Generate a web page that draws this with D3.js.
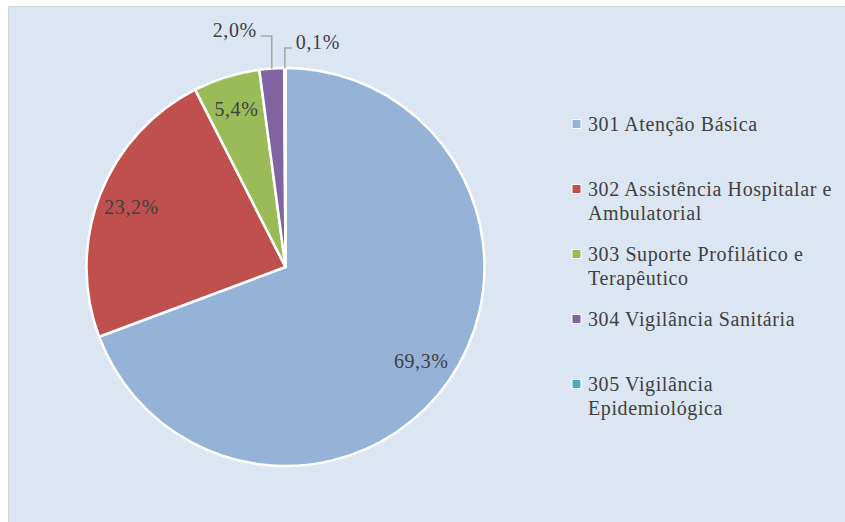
<!DOCTYPE html>
<html>
<head>
<meta charset="utf-8">
<script src="https://cdn.jsdelivr.net/npm/d3@7"></script>
<style>
  html, body { margin: 0; padding: 0; background: #ffffff; }
  svg { display: block; }
</style>
</head>
<body>
<script>
window.document.addEventListener('DOMContentLoaded', init, false);

var categories = [
    '301 Atenção Básica',
    '302 Assistência Hospitalar e Ambulatorial',
    '303 Suporte Profilático e Terapêutico',
    '304 Vigilância Sanitária',
    '305 Vigilância Epidemiológica'
];
var values = [69.3, 23.2, 5.4, 2.0, 0.1];
var colors = ['#95b3d7', '#c0504d', '#9bbb59', '#8064a2', '#4bacc6'];
var title = 'Despesas com saúde por subfunção';

var width = 845, height = 522;
var cx = 285.5, cy = 267, radius = 199;
var fontFamily = 'Liberation Serif, Times New Roman, Tinos, serif';

var ptBR = d3.formatLocale({ decimal: ',', thousands: '.', grouping: [3], currency: ['R$', ''] });
var fmt = ptBR.format('.1f');

function init() {
    var svg = d3.select('body')
        .append('svg')
        .attr('width', width)
        .attr('height', height);

    // chart area
    svg.append('rect')
        .attr('x', 8.5)
        .attr('y', 6.5)
        .attr('width', width)
        .attr('height', height)
        .attr('fill', '#dce6f2')
        .attr('stroke', '#d4d4d4');

    // title, mostly cut off at the top
    svg.append('text')
        .attr('x', 262)
        .attr('y', -5)
        .attr('font-family', fontFamily)
        .attr('font-weight', 'bold')
        .attr('font-size', '22px')
        .attr('letter-spacing', '2.4px')
        .attr('fill', '#000')
        .text(title);

    var color = d3.scaleOrdinal().domain(categories).range(colors);

    var pie = d3.pie().sort(null).value((d) => d.value);
    var data = categories.map((c, i) => ({ name: c, value: values[i] }));
    var arcs = pie(data);

    var arc = d3.arc().innerRadius(0).outerRadius(radius);
    var labelArc = d3.arc().innerRadius(radius * 0.83).outerRadius(radius * 0.83);

    var g = svg.append('g').attr('transform', `translate(${cx}, ${cy})`);

    g.selectAll('.slice')
        .data(arcs)
        .enter()
            .append('path')
            .attr('class', 'slice')
            .attr('d', arc)
            .attr('fill', (d) => color(d.data.name))
            .attr('stroke', '#ffffff')
            .attr('stroke-width', 2.5)
            .attr('stroke-linejoin', 'round');

    // labels inside the big slices
    var inside = arcs.filter((d) => d.data.value >= 5);
    g.selectAll('.inlabel')
        .data(inside)
        .enter()
            .append('text')
            .attr('class', 'inlabel')
            .attr('transform', (d) => `translate(${labelArc.centroid(d)})`)
            .attr('text-anchor', 'middle')
            .attr('dominant-baseline', 'central')
            .attr('font-family', fontFamily)
            .attr('font-size', '20px')
            .attr('letter-spacing', '0.6px')
            .attr('fill', '#404040')
            .text((d) => fmt(d.data.value) + '%');

    // small slices: labels outside with elbow leader lines
    var outside = arcs.filter((d) => d.data.value < 5);
    var elbowRise = [32, 20];
    var elbowSide = [-11, 7];
    outside.forEach((d, i) => {
        var mid = (d.startAngle + d.endAngle) / 2;
        var x0 = radius * Math.sin(mid);
        var y0 = -radius * Math.cos(mid);
        var y1 = -radius - elbowRise[i];
        var x1 = x0 + elbowSide[i];
        g.append('path')
            .attr('d', `M${x0},${y0}V${y1}H${x1}`)
            .attr('fill', 'none')
            .attr('stroke', '#a6a6a6')
            .attr('stroke-width', 1.6);
        g.append('text')
            .attr('x', x1 + (elbowSide[i] < 0 ? -4 : 4))
            .attr('y', y1 - 6)
            .attr('text-anchor', elbowSide[i] < 0 ? 'end' : 'start')
            .attr('dominant-baseline', 'central')
            .attr('font-family', fontFamily)
            .attr('font-size', '20px')
            .attr('letter-spacing', '0.6px')
            .attr('fill', '#404040')
            .text(fmt(d.data.value) + '%');
    });

    // legend
    var legendX = 572, legendY = 124, legendStep = 65, lineStep = 24, maxWidth = 250;
    var legend = svg.append('g');
    categories.forEach((c, i) => {
        var y = legendY + i * legendStep;
        legend.append('rect')
            .attr('x', legendX)
            .attr('y', y - 4.5)
            .attr('width', 9)
            .attr('height', 9)
            .attr('fill', color(c))
            .attr('stroke', '#ffffff')
            .attr('stroke-width', 1);
        var t = legend.append('text')
            .attr('x', legendX + 16)
            .attr('y', y)
            .attr('dominant-baseline', 'central')
            .attr('font-family', fontFamily)
            .attr('font-size', '20px')
            .attr('letter-spacing', '0.6px')
            .attr('fill', '#404040');
        wrap(t, c, legendX + 16, y, lineStep, maxWidth);
    });
}

function wrap(textSel, str, x, y, lineStep, maxWidth) {
    var words = str.split(' ');
    var line = [];
    var lineNo = 0;
    var tspan = textSel.append('tspan').attr('x', x).attr('y', y);
    words.forEach((w) => {
        line.push(w);
        tspan.text(line.join(' '));
        if (tspan.node().getComputedTextLength() > maxWidth && line.length > 1) {
            line.pop();
            tspan.text(line.join(' '));
            line = [w];
            lineNo += 1;
            tspan = textSel.append('tspan')
                .attr('x', x)
                .attr('y', y + lineNo * lineStep)
                .text(w);
        }
    });
}
</script>
</body>
</html>
